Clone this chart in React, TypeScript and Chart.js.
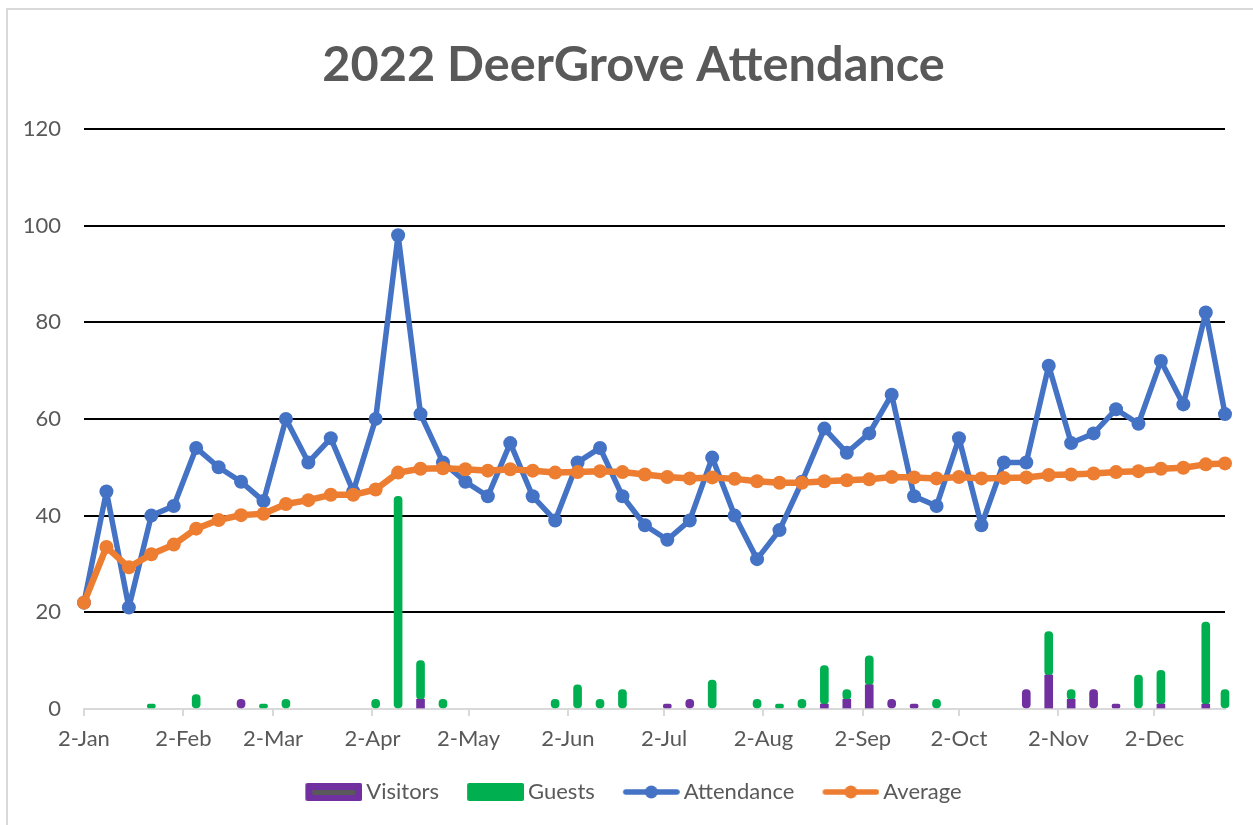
import React, { useEffect, useRef } from "react";
import { Chart, registerables } from "chart.js";

Chart.register(...registerables);

// ---- Data ----
const dates = [
  "2022-01-02", "2022-01-09", "2022-01-16", "2022-01-23", "2022-01-30",
  "2022-02-06", "2022-02-13", "2022-02-20", "2022-02-27",
  "2022-03-06", "2022-03-13", "2022-03-20", "2022-03-27",
  "2022-04-03", "2022-04-10", "2022-04-17", "2022-04-24",
  "2022-05-01", "2022-05-08", "2022-05-15", "2022-05-22", "2022-05-29",
  "2022-06-05", "2022-06-12", "2022-06-19", "2022-06-26",
  "2022-07-03", "2022-07-10", "2022-07-17", "2022-07-24", "2022-07-31",
  "2022-08-07", "2022-08-14", "2022-08-21", "2022-08-28",
  "2022-09-04", "2022-09-11", "2022-09-18", "2022-09-25",
  "2022-10-02", "2022-10-09", "2022-10-16", "2022-10-23", "2022-10-30",
  "2022-11-06", "2022-11-13", "2022-11-20", "2022-11-27",
  "2022-12-04", "2022-12-11", "2022-12-18", "2022-12-24",
];

const attendance = [
  22, 45, 21, 40, 42, 54, 50, 47, 43, 60,
  51, 56, 45, 60, 98, 61, 51, 47, 44, 55,
  44, 39, 51, 54, 44, 38, 35, 39, 52, 40,
  31, 37, 47, 58, 53, 57, 65, 44, 42, 56,
  38, 51, 51, 71, 55, 57, 62, 59, 72, 63,
  82, 61,
];

const average = [
  22.0, 33.5, 29.3, 32.0, 34.0, 37.3, 39.1, 40.1, 40.4, 42.4,
  43.2, 44.3, 44.3, 45.4, 48.9, 49.7, 49.8, 49.6, 49.3, 49.6,
  49.3, 48.9, 49.0, 49.2, 49.0, 48.5, 48.0, 47.7, 47.9, 47.6,
  47.1, 46.8, 46.8, 47.1, 47.3, 47.5, 48.0, 47.9, 47.7, 48.0,
  47.7, 47.8, 47.9, 48.4, 48.5, 48.7, 49.0, 49.2, 49.7, 49.9,
  50.6, 50.8,
];

const visitors = [
  0, 0, 0, 0, 0, 0, 0, 2, 0, 0,
  0, 0, 0, 0, 0, 2, 0, 0, 0, 0,
  0, 0, 0, 0, 0, 0, 1, 2, 0, 0,
  0, 0, 0, 1, 2, 5, 2, 1, 0, 0,
  0, 0, 4, 7, 2, 4, 1, 0, 1, 0,
  1, 0,
];

const guests = [
  0, 0, 0, 1, 0, 3, 0, 0, 1, 2,
  0, 0, 0, 2, 44, 8, 2, 0, 0, 0,
  0, 2, 5, 2, 4, 0, 0, 0, 6, 0,
  2, 1, 2, 8, 2, 6, 0, 0, 2, 0,
  0, 0, 0, 9, 2, 0, 0, 7, 7, 0,
  17, 4,
];

const tickDates = [
  "2022-01-02", "2022-02-02", "2022-03-02", "2022-04-02", "2022-05-02", "2022-06-02",
  "2022-07-02", "2022-08-02", "2022-09-02", "2022-10-02", "2022-11-02", "2022-12-02",
];
const tickLabels = [
  "2-Jan", "2-Feb", "2-Mar", "2-Apr", "2-May", "2-Jun",
  "2-Jul", "2-Aug", "2-Sep", "2-Oct", "2-Nov", "2-Dec",
];

const seriesNames = ["Visitors", "Guests", "Attendance", "Average"];
const colors = {
  visitors: "#7030A0",
  guests: "#00B050",
  attendance: "#4472C4",
  average: "#ED7D31",
  text: "#595959",
};

const DAY_MS = 86400000;
const ORIGIN = Date.parse(dates[0]);
const toDay = (s: string) => Math.round((Date.parse(s) - ORIGIN) / DAY_MS);

function makeSwatch(kind: "box" | "boxline" | "line", color: string) {
  const c = document.createElement("canvas");
  c.width = 64;
  c.height = 22;
  const g = c.getContext("2d")!;
  const x0 = 7;
  const w = 57;
  if (kind === "box" || kind === "boxline") {
    g.fillStyle = color;
    g.beginPath();
    (g as any).roundRect ? (g as any).roundRect(x0, 2, w, 18, 2) : g.rect(x0, 2, w, 18);
    g.fill();
    if (kind === "boxline") {
      g.fillStyle = "#595959";
      g.fillRect(x0 + 7, 9, w - 14, 5);
    }
  } else {
    g.strokeStyle = color;
    g.lineWidth = 5.5;
    g.lineCap = "round";
    g.beginPath();
    g.moveTo(x0 + 3, 11);
    g.lineTo(x0 + w - 3, 11);
    g.stroke();
    g.fillStyle = color;
    g.beginPath();
    g.arc(x0 + w / 2, 11, 6.5, 0, Math.PI * 2);
    g.fill();
  }
  return c;
}

export default function App() {
  const ref = useRef<HTMLCanvasElement>(null);

  useEffect(() => {
    if (!ref.current) return;
    const days = dates.map(toDay);
    const tickDays = tickDates.map(toDay);
    const pts = (arr: number[]) => arr.map((v, i) => ({ x: days[i], y: v }));
    const barPts = (arr: number[]) => arr.map((v, i) => ({ x: days[i], y: v === 0 ? null : v }));
    const swatches = [
      makeSwatch("boxline", colors.visitors),
      makeSwatch("box", colors.guests),
      makeSwatch("line", colors.attendance),
      makeSwatch("line", colors.average),
    ];
    const font = (size: number, weight: any = "normal") => ({ family: "Lato", size, weight });

    const chart = new Chart(ref.current, {
      type: "bar",
      data: {
        datasets: [
          {
            type: "bar",
            label: seriesNames[0],
            data: barPts(visitors),
            backgroundColor: colors.visitors,
            barThickness: 8,
            borderRadius: 4,
            borderSkipped: false,
            stack: "bars",
            order: 3,
            clip: false as any,
          },
          {
            type: "bar",
            label: seriesNames[1],
            data: barPts(guests),
            backgroundColor: colors.guests,
            barThickness: 8,
            borderRadius: 4,
            borderSkipped: false,
            stack: "bars",
            order: 4,
            clip: false as any,
          },
          {
            type: "line",
            label: seriesNames[2],
            data: pts(attendance),
            borderColor: colors.attendance,
            backgroundColor: colors.attendance,
            borderWidth: 5.5,
            pointRadius: 7,
            pointBorderWidth: 0,
            pointBackgroundColor: colors.attendance,
            borderJoinStyle: "round",
            borderCapStyle: "round",
            tension: 0,
            stack: "att",
            order: 2,
            clip: false as any,
          },
          {
            type: "line",
            label: seriesNames[3],
            data: pts(average),
            borderColor: colors.average,
            backgroundColor: colors.average,
            borderWidth: 6.5,
            pointRadius: 7,
            pointBorderWidth: 0,
            pointBackgroundColor: colors.average,
            borderJoinStyle: "round",
            borderCapStyle: "round",
            tension: 0,
            stack: "avg",
            order: 1,
            clip: false as any,
          },
        ] as any,
      },
      options: {
        responsive: false,
        animation: false,
        layout: { padding: { left: 0, right: 0, top: 0, bottom: 12 } },
        plugins: {
          title: {
            display: true,
            text: "2022 DeerGrove Attendance",
            color: colors.text,
            font: font(48.7, "bold"),
            padding: { top: 26, bottom: 34.4 },
          },
          legend: {
            position: "bottom",
            labels: {
              usePointStyle: true,
              pointStyleWidth: 50,
              padding: 28,
              color: colors.text,
              font: font(22),
              sort: (a: any, b: any) => a.datasetIndex - b.datasetIndex,
              generateLabels: (ch: any) => {
                const items = (Chart.defaults.plugins.legend.labels as any).generateLabels(ch);
                items.forEach((it: any) => {
                  it.pointStyle = swatches[it.datasetIndex];
                  it.lineWidth = 0;
                });
                return items;
              },
            },
          },
          tooltip: { enabled: false },
        },
        scales: {
          x: {
            type: "linear",
            offset: false,
            min: 0,
            max: days[days.length - 1],
            afterBuildTicks: (s: any) => {
              s.ticks = tickDays.map((v) => ({ value: v }));
            },
            afterFit: (s: any) => {
              s.height = 44;
            },
            ticks: {
              autoSkip: false,
              maxRotation: 0,
              minRotation: 0,
              padding: 10,
              color: colors.text,
              font: font(22),
              callback: (_v: any, i: number) => tickLabels[i],
            },
            grid: {
              offset: false,
              drawOnChartArea: false,
              drawTicks: true,
              tickLength: 7,
              color: "#d9d9d9",
              lineWidth: 2,
            },
            border: { display: true, color: "#d9d9d9", width: 2 },
          },
          y: {
            min: 0,
            max: 120,
            stacked: true,
            afterFit: (s: any) => {
              s.width = 76;
            },
            ticks: {
              stepSize: 20,
              padding: 23,
              color: colors.text,
              font: font(22),
            },
            grid: {
              drawTicks: false,
              lineWidth: 2,
              color: (c: any) => (c.tick && c.tick.value === 0 ? "rgba(0,0,0,0)" : "#000000"),
            },
            border: { display: false },
          },
          yRightSpace: {
            type: "linear",
            position: "right",
            display: true,
            afterFit: (s: any) => {
              s.width = 34;
            },
            ticks: { display: false },
            grid: { display: false, drawTicks: false },
            border: { display: false },
          },
        } as any,
      },
    } as any);

    let alive = true;
    if ((document as any).fonts && (document as any).fonts.ready) {
      (document as any).fonts.ready.then(() => {
        if (alive) chart.update();
      });
    }
    return () => {
      alive = false;
      chart.destroy();
    };
  }, []);

  return (
    <div
      style={{
        position: "absolute",
        left: 6,
        top: 8,
        width: 1247,
        height: 817,
        boxSizing: "border-box",
        borderLeft: "2px solid #d9d9d9",
        borderTop: "2px solid #d9d9d9",
        background: "#ffffff",
        overflow: "hidden",
      }}
    >
      <canvas ref={ref} width={1251} height={815} style={{ display: "block", width: 1251, height: 815 }} />
    </div>
  );
}
